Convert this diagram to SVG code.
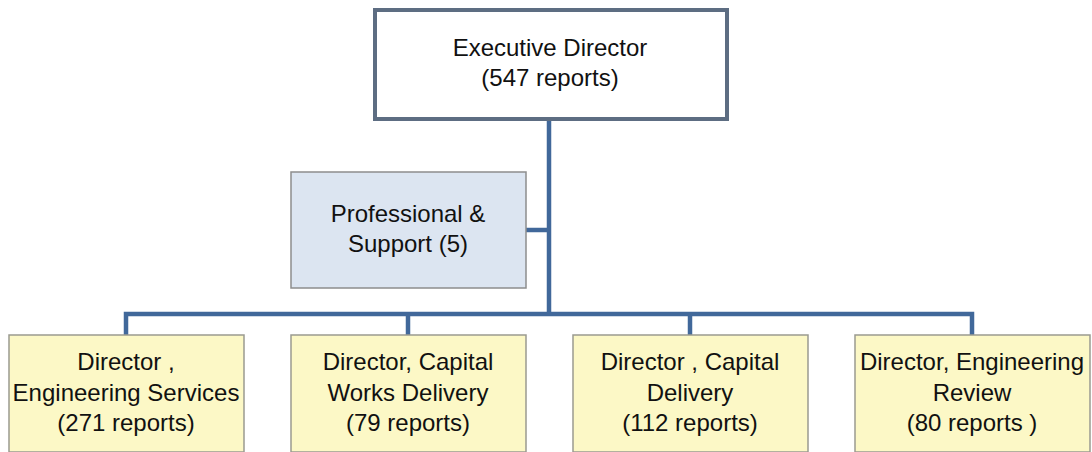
<svg xmlns="http://www.w3.org/2000/svg" width="1092" height="452" viewBox="0 0 1092 452">
<style>
text{font-family:"Liberation Sans",Arial,sans-serif;font-size:24px;fill:#111;text-anchor:middle}
.conn{stroke:#41689a;stroke-width:4.5;fill:none;stroke-linejoin:miter}
.dir{fill:#fcf8c6;stroke:#9a9a90;stroke-width:1.5}
</style>
<rect width="1092" height="452" fill="#fff"/>
<g id="connectors">
<path class="conn" d="M549 120 V314"/>
<path class="conn" d="M526 230 H549"/>
<path class="conn" d="M126 335 V314 H972 V335"/>
<path class="conn" d="M408 314 V335"/>
<path class="conn" d="M690 314 V335"/>
</g>
<g id="exec">
<rect x="375" y="10" width="352" height="109" fill="#fff" stroke="#5d6d82" stroke-width="4"/>
<text x="550" y="56">Executive Director</text>
<text x="550" y="86">(547 reports)</text>
</g>
<g id="support">
<rect x="291" y="172" width="235" height="116" fill="#dce5f1" stroke="#8d8d8d" stroke-width="1.5"/>
<text x="408" y="222">Professional &amp;</text>
<text x="408" y="252">Support (5)</text>
</g>
<g id="d1">
<rect class="dir" x="9" y="335" width="235" height="117"/>
<text x="126" y="370">Director ,</text>
<text x="126" y="401">Engineering Services</text>
<text x="126" y="431">(271 reports)</text>
</g>
<g id="d2">
<rect class="dir" x="291" y="335" width="235" height="117"/>
<text x="408" y="370">Director, Capital</text>
<text x="408" y="401">Works Delivery</text>
<text x="408" y="431">(79 reports)</text>
</g>
<g id="d3">
<rect class="dir" x="573" y="335" width="235" height="117"/>
<text x="690" y="370">Director , Capital</text>
<text x="690" y="401">Delivery</text>
<text x="690" y="431">(112 reports)</text>
</g>
<g id="d4">
<rect class="dir" x="855" y="335" width="235" height="117"/>
<text x="972" y="370">Director, Engineering</text>
<text x="972" y="401">Review</text>
<text x="972" y="431">(80 reports )</text>
</g>
</svg>
